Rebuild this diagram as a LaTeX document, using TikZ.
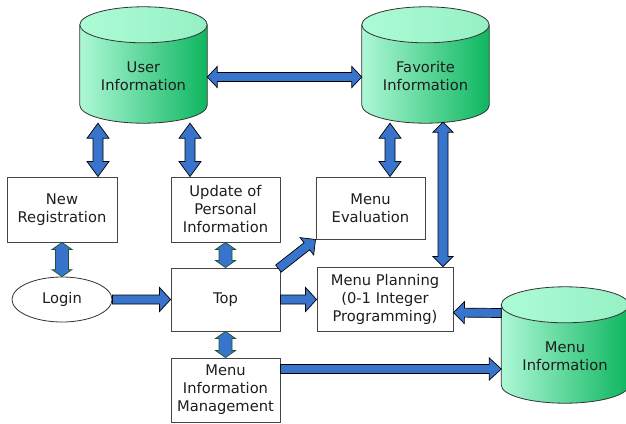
\documentclass[tikz,border=0pt]{standalone}
\usepackage{fontspec}
\setmainfont{DejaVu Sans}
\usetikzlibrary{calc,backgrounds,shapes.geometric}
\definecolor{arrowblue}{RGB}{56,116,204}
\definecolor{cyllight}{RGB}{174,248,214}
\definecolor{cyldark}{RGB}{14,182,96}
\definecolor{cyltopl}{RGB}{172,252,214}
\definecolor{cyltopr}{RGB}{150,240,196}
\definecolor{greenedge}{RGB}{30,85,45}
\definecolor{boxedge}{RGB}{70,70,70}
\definecolor{txt}{RGB}{30,30,30}

% fat arrow: #1 style, #2 start, #3 end, #4 half shaft, #5 half head, #6 head length, #7 double (1) or single (0)
\newcommand\fatarrow[7]{%
  \begin{scope}
  \path (#2); \pgfgetlastxy{\fax}{\fay}%
  \path (#3); \pgfgetlastxy{\fbx}{\fby}%
  \pgfmathsetmacro\faang{atan2(\fby-\fay,\fbx-\fax)}%
  \pgfmathsetmacro\falen{veclen(\fbx-\fax,\fby-\fay)}%
  \begin{scope}[shift={(\fax,\fay)},rotate=\faang]
  \ifnum#7=1
    \path[#1] (0,0) -- (#6,#5) -- (#6,#4) -- ({\falen-#6},#4) -- ({\falen-#6},#5) -- (\falen,0)
      -- ({\falen-#6},-#5) -- ({\falen-#6},-#4) -- (#6,-#4) -- (#6,-#5) -- cycle;
  \else
    \path[#1] (0,#4) -- ({\falen-#6},#4) -- ({\falen-#6},#5) -- (\falen,0)
      -- ({\falen-#6},-#5) -- ({\falen-#6},-#4) -- (0,-#4) -- cycle;
  \fi
  \end{scope}
  \end{scope}}

% cylinder drawn behind a node: node north = top-ellipse centre, lowest point = node south + 4pt up
\newcommand\cylbg[1]{%
  \begin{scope}[on background layer]
  \path (#1.north west); \pgfgetlastxy{\cxa}{\cya}%
  \path (#1.south east); \pgfgetlastxy{\cxb}{\cyb}%
  \pgfmathsetmacro\crx{(\cxb-\cxa)/2}%
  \pgfmathsetmacro\cxm{(\cxb+\cxa)/2}%
  \shade[left color=cyllight,right color=cyldark]
    (\cxa,\cya) -- (\cxa,{\cyb+22pt}) arc[start angle=180,end angle=360,x radius=\crx pt,y radius=18pt]
    -- (\cxb,\cya) -- cycle;
  \draw[cylline]
    (\cxa,\cya) -- (\cxa,{\cyb+22pt}) arc[start angle=180,end angle=360,x radius=\crx pt,y radius=18pt]
    -- (\cxb,\cya);
  \shade[left color=cyltopl,right color=cyltopr] (\cxm pt,\cya) ellipse[x radius=\crx pt,y radius=18pt];
  \draw[cylline] (\cxm pt,\cya) ellipse[x radius=\crx pt,y radius=18pt];
  \end{scope}}

\tikzset{
  lbl/.style={inner sep=0pt, align=center, text=txt, font=\fontsize{14.7}{18}\selectfont},
  box/.style={lbl, draw=boxedge, line width=0.9pt, fill=white},
  db/.style={lbl, minimum width=127pt, minimum height=102pt},
  cylline/.style={draw=black!80, line width=0.8pt},
  blk/.style={fill=arrowblue, draw=black, line width=0.7pt, line join=miter},
  grn/.style={fill=arrowblue, draw=greenedge, line width=0.7pt, line join=miter}
}

\begin{document}
\begin{tikzpicture}[x=1pt,y=-1pt]
\useasboundingbox (0,0) rectangle (626,423);

% databases
\node[db] (ui)  at (143.5,76) {User\\Information};
\node[db] (fav) at (425.5,76) {Favorite\\Information};
\node[db] (mi)  at (565,356) {Menu\\Information};
\cylbg{ui}
\cylbg{fav}
\cylbg{mi}

% boxes
\node[box, minimum width=110pt, minimum height=65pt] (nr)  at (62,209.5)    {New\\Registration};
\node[box, minimum width=109pt, minimum height=65pt] (upd) at (225.5,209.5) {Update of\\Personal\\Information};
\node[box, minimum width=109pt, minimum height=62pt] (me)  at (370.5,208)   {Menu\\Evaluation};
\node[box, minimum width=109pt, minimum height=63pt] (top) at (225.5,299.5) {Top};
\node[box, minimum width=136pt, minimum height=64pt] (mp)  at (385,299)     {Menu Planning\\(0-1 Integer\\Programming)};
\node[box, minimum width=109pt, minimum height=64pt] (mim) at (225.5,390)   {Menu\\Information\\Management};
\node[lbl, draw=black!80, line width=0.8pt, fill=white, ellipse, minimum width=100pt, minimum height=45pt, inner sep=0pt] (login) at (62,299.5) {Login};

% double arrows from databases
\fatarrow{blk}{$(ui.south)+(-45.5,-4)$}{$(nr.north)+(36,0)$}{5}{11}{15}{1}
\fatarrow{blk}{$(ui.south)+(46.5,-4)$}{$(upd.north)+(-35.5,0)$}{5}{11}{15}{1}
\fatarrow{blk}{$(ui.east)+(0,1)$}{$(fav.west)+(0,1)$}{4.5}{10.5}{10}{1}
\fatarrow{blk}{$(fav.south)+(-35.5,-4)$}{$(me.north)+(19.5,0)$}{5}{11}{15}{1}
\fatarrow{blk}{$(fav.south)+(17.5,-5)$}{$(mp.north)+(58,0)$}{5}{10}{10}{1}

% short green-edged double arrows
\fatarrow{grn}{nr.south}{login.north}{6.5}{10}{7}{1}
\fatarrow{grn}{upd.south}{top.north}{6.5}{10}{7}{1}
\fatarrow{grn}{top.south}{mim.north}{6.5}{10}{7}{1}

% single arrows
\fatarrow{blk}{login.east}{top.west}{4.5}{12}{11}{0}
\fatarrow{blk}{top.east}{$(mp.west)+(0,0.5)$}{4.5}{12}{11}{0}
\fatarrow{blk}{$(top.north east)+(-2,1)$}{me.south west}{4.5}{11}{11}{0}
\fatarrow{blk}{$(mi.west)+(0,-43)$}{$(mp.east)+(0,13.5)$}{4.5}{11}{11}{0}
\fatarrow{blk}{$(mim.east)+(0,-21)$}{$(mi.west)+(0,13)$}{4.5}{11}{12}{0}
\end{tikzpicture}
\end{document}
